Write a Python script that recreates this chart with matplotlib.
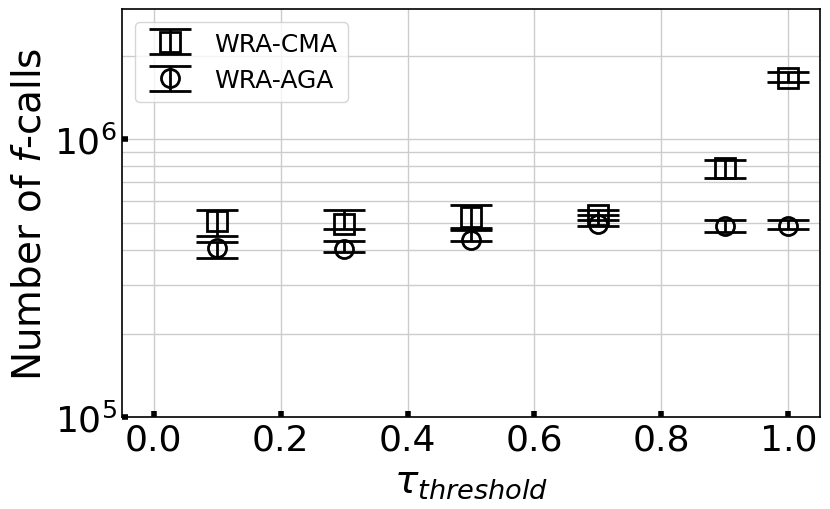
import matplotlib.pyplot as plt
import numpy as np

# data (values of f-calls)
tau = [0.1, 0.3, 0.5, 0.7, 0.9, 1.0]

cma_mid = [5.07e5, 4.94e5, 5.24e5, 5.33e5, 7.88e5, 1.66e6]
cma_low = [4.49e5, 4.74e5, 4.78e5, 5.12e5, 7.28e5, 1.61e6]
cma_high = [5.57e5, 5.57e5, 5.79e5, 5.57e5, 8.40e5, 1.74e6]

aga_mid = [4.05e5, 4.02e5, 4.35e5, 4.95e5, 4.88e5, 4.89e5]
aga_low = [3.75e5, 3.94e5, 4.31e5, 4.88e5, 4.64e5, 4.77e5]
aga_high = [4.27e5, 4.30e5, 4.72e5, 5.34e5, 5.11e5, 5.11e5]


def err(mid, low, high):
    mid = np.array(mid)
    return [mid - np.array(low), np.array(high) - mid]


fig = plt.figure(figsize=(8.3, 5.1), dpi=100)
ax = fig.add_axes([0.147, 0.180, 0.841, 0.800])

ax.errorbar(tau, cma_mid, yerr=err(cma_mid, cma_low, cma_high), fmt='s',
            color='black', mfc='none', mec='black', markersize=15, mew=2,
            elinewidth=2, capsize=15, capthick=2, label='WRA-CMA')
ax.errorbar(tau, aga_mid, yerr=err(aga_mid, aga_low, aga_high), fmt='o',
            color='black', mfc='none', mec='black', markersize=13, mew=2,
            elinewidth=2, capsize=15, capthick=2, label='WRA-AGA')

ax.set_yscale('log')
ax.set_xlim(-0.05, 1.05)
ax.set_ylim(1e5, 2.94e6)
ax.set_xticks([0.0, 0.2, 0.4, 0.6, 0.8, 1.0])

ax.grid(True, which='both', color='#cccccc', linewidth=1)
ax.set_axisbelow(True)
ax.tick_params(which='major', direction='in', length=4, width=4, labelsize=26)
ax.tick_params(which='minor', length=0)
for s in ax.spines.values():
    s.set_linewidth(1.2)

ax.set_xlabel(r'$\tau_{threshold}$', fontsize=28)
ax.set_ylabel(r'Number of $f$-calls', fontsize=28)

ax.legend(loc='upper left', fontsize=18)

fig.savefig('out.png', dpi=100)
